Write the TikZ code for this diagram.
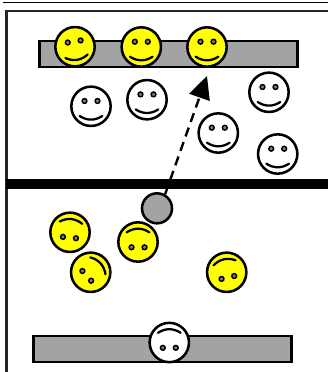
\documentclass[tikz,border=0pt]{standalone}
\usepackage{tikz}
\usetikzlibrary{arrows.meta,positioning}
\definecolor{bargray}{RGB}{163,163,163}
\definecolor{faceyellow}{RGB}{255,255,0}
\tikzset{
  barbox/.style={draw=black, fill=bargray, line width=1.8pt},
  facebody/.style={circle, draw=black, line width=1.9pt, minimum size=29.5pt, inner sep=0pt},
  ballnode/.style={circle, draw=black, fill=bargray, line width=1.9pt, minimum size=22.5pt, inner sep=0pt},
  pics/smiley/.style={code={
    \node[facebody, fill=#1] (-body) at (0,0) {};
    \foreach \ex in {-6.5,6.5} {
      \draw[line width=1.1pt, fill=gray] (\ex,-5.3) circle (2.4);
    }
    \draw[line width=1.7pt, line cap=round] (-11.3,9.7) .. controls (-4,14.5) and (4,14.5) .. (11.3,9.7);
  }}
}
\begin{document}
\begin{tikzpicture}[x=0.75pt, y=-0.75pt]
  \useasboundingbox (0,0) rectangle (328,372);

  % Outer frame
  \draw[line width=1.1pt] (3,2.5) -- (328,2.5);
  \draw[line width=2pt, black!85] (328,11) -- (6.5,11) -- (6.5,372);

  % Gray bars
  \node[barbox, minimum width=193.5pt, minimum height=19.5pt, inner sep=0pt] (topbar) at (168.3,54) {};
  \node[barbox, minimum width=193.5pt, minimum height=19.5pt, inner sep=0pt] (lowbar) at (162.5,349) {};

  % Moving ball and its path
  \node[ballnode] (ball) at (157,208.3) {};
  \coordinate (arrowtip) at (207,76);
  \draw[line width=1.8pt, dash pattern=on 7pt off 4.5pt, -{Triangle[length=17pt,width=16pt]}] (ball.60) -- (arrowtip);

  % Wall
  \fill[black] (6,179) rectangle (328,189);

  % Upper faces
  \foreach \x/\y/\r/\n in {75/46.7/9/a, 141.3/47/0/b, 207/47/0/c} {
    \pic[rotate=\r] (upyellow\n) at (\x,\y) {smiley=faceyellow};
  }
  \foreach \x/\y/\n in {91/106.3/a, 147/99.7/b, 218.3/133/c, 269/92.3/d, 277.7/154/e} {
    \pic (upwhite\n) at (\x,\y) {smiley=white};
  }

  % Lower faces
  \foreach \x/\y/\r/\n in {70/232.3/174/a, 138/242/180/b, 90.7/272.3/132/c, 226.7/272.3/193/d} {
    \pic[rotate=\r] (lowyellow\n) at (\x,\y) {smiley=faceyellow};
  }
  \pic[rotate=180] (lowwhite) at (169.3,342.5) {smiley=white};
\end{tikzpicture}
\end{document}
